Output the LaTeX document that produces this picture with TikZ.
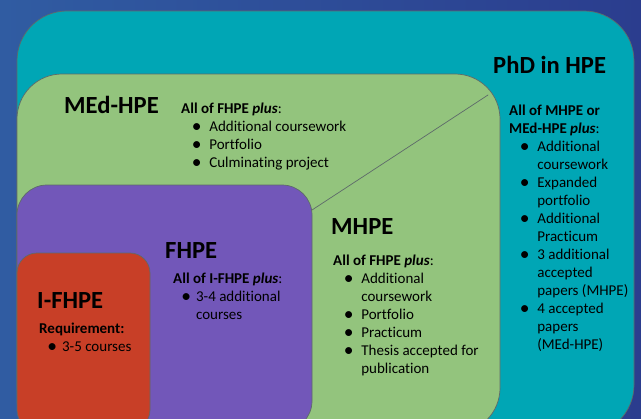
\documentclass[tikz,border=0pt]{standalone}
\usepackage{fontspec}
\setmainfont[Ligatures=NoCommon]{Carlito}
\usepackage{xcolor}
\usepackage{tikz}
\definecolor{bgleft}{HTML}{305CA2}
\definecolor{bgright}{HTML}{2B3D8E}
\definecolor{phd}{HTML}{00A6B5}
\definecolor{master}{HTML}{93C47D}
\definecolor{fhpe}{HTML}{7257B9}
\definecolor{ifhpe}{HTML}{C83F27}
\definecolor{edge}{HTML}{5E6A6A}
\newcommand{\bodyfont}{\fontsize{12.8}{15.4}\selectfont}
\newcommand{\titlefont}{\fontsize{21}{25}\selectfont\bfseries}
\newcommand{\bigdot}{\raisebox{-0.1em}{\smash{\scalebox{1.3}{\textbullet}}}}
\newcommand{\itm}[1]{\hspace*{9pt}\makebox[15pt][l]{\bigdot}#1}
\newcommand{\sitm}[1]{\hspace*{7pt}\makebox[12.5pt][l]{\bigdot}#1}
\newcommand{\cont}[2][24pt]{\hspace*{#1}#2}
\tikzset{
  box/.style={draw=edge, line width=0.6pt},
  title/.style={font=\titlefont, inner sep=0pt, anchor=base west},
  blist/.style={font=\bodyfont, inner sep=0pt, anchor=base west},
  divider/.style={draw=edge, line width=0.6pt, line cap=round},
}

\begin{document}
\begin{tikzpicture}[x=0.03cm, y=-0.03cm]
  \useasboundingbox (0,0) rectangle (641,419);
  \clip (0,0) rectangle (641,419);
  \shade[left color=bgleft, right color=bgright] (0,0) rectangle (641,419);

  % nested programme boxes
  \draw[box, fill=phd, rounded corners=1.5cm] (17,11) rectangle (634,435);
  \draw[box, fill=master, rounded corners=1.35cm] (17,74) rectangle (500,433);
  \draw[box, fill=fhpe, rounded corners=0.9cm] (17,185) rectangle (312,431);
  \draw[box, fill=ifhpe, rounded corners=0.6cm] (17,253) rectangle (150,430);

  % split between MEd-HPE and MHPE
  \coordinate (medcorner) at (488,95);
  \coordinate (fhpecorner) at (312,210);
  \draw[divider] (fhpecorner) -- (medcorner);

  % titles
  \node[title] (phdtitle) at (493,73) {PhD in HPE};
  \node[title] (medtitle) at (64,113) {MEd-HPE};
  \node[title] (mhpetitle) at (331,234) {MHPE};
  \node[title] (fhpetitle) at (165,258) {FHPE};
  \node[title] (ifhpetitle) at (37,308) {I-FHPE};

  % requirements
  \node[blist] (phdreq) at (509,115) {\begin{tabular}[t]{@{}l@{}}
    \textbf{All of MHPE or}\\
    \textbf{MEd-HPE \textit{plus}}:\\
    \itm{Additional}\\ \cont{coursework}\\
    \itm{Expanded}\\ \cont{portfolio}\\
    \itm{Additional}\\ \cont{Practicum}\\
    \itm{3 additional}\\ \cont{accepted}\\ \cont{papers (MHPE)}\\
    \itm{4 accepted}\\ \cont{papers}\\ \cont{(MEd-HPE)}
  \end{tabular}};
  \node[blist] (medreq) at (181,113) {\begin{tabular}[t]{@{}l@{}}
    \textbf{All of FHPE \textit{plus}}:\\
    \itm{Additional coursework}\\
    \itm{Portfolio}\\
    \itm{Culminating project}
  \end{tabular}};
  \node[blist] (mhpereq) at (333,265) {\begin{tabular}[t]{@{}l@{}}
    \textbf{All of FHPE \textit{plus}}:\\
    \itm{Additional}\\ \cont{coursework}\\
    \itm{Portfolio}\\
    \itm{Practicum}\\
    \itm{Thesis accepted for}\\ \cont{publication}
  \end{tabular}};
  \node[blist] (fhpereq) at (173,283) {\begin{tabular}[t]{@{}l@{}}
    \textbf{All of I-FHPE \textit{plus}}:\\
    \sitm{3-4 additional}\\ \cont[19.5pt]{courses}
  \end{tabular}};
  \node[blist] (ifhpereq) at (39,333) {\begin{tabular}[t]{@{}l@{}}
    \textbf{Requirement:}\\
    \sitm{3-5 courses}
  \end{tabular}};
\end{tikzpicture}
\end{document}
